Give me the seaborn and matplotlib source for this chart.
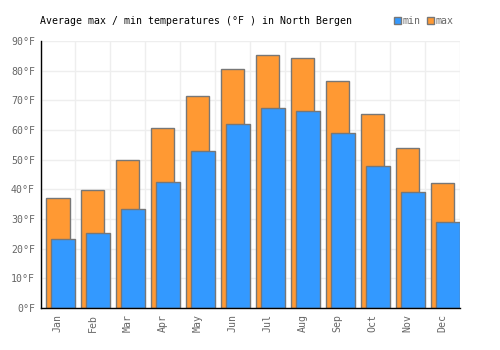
import matplotlib
matplotlib.use("Agg")
import matplotlib.pyplot as plt
import seaborn as sns
import pandas as pd
from matplotlib.patches import Patch

months = ["Jan", "Feb", "Mar", "Apr", "May", "Jun", "Jul", "Aug", "Sep", "Oct", "Nov", "Dec"]
max_temps = [37.0, 39.7, 49.8, 60.8, 71.6, 80.4, 85.4, 84.2, 76.4, 65.3, 53.8, 42.0]
min_temps = [23.1, 25.3, 33.2, 42.3, 52.8, 61.9, 67.3, 66.4, 58.9, 47.8, 39.0, 28.9]
yticks = [0, 10, 20, 30, 40, 50, 60, 70, 80, 90]

df = pd.DataFrame({"month": months, "max": max_temps, "min": min_temps})

sns.set_theme(style="white")
plt.rcParams["font.family"] = ["DejaVu Sans Mono", "DejaVu Sans"]

fig = plt.figure(figsize=(5, 3.5), dpi=100)
ax = fig.add_axes([0.081, 0.12, 0.839, 0.763])

orange = "#ff9933"
blue = "#3399ff"
edge = "#777777"
fs = 7.15

sns.barplot(data=df, x="month", y="max", color=orange, width=0.66,
            edgecolor=edge, linewidth=1.0, saturation=1, ax=ax)
n_max = len(ax.patches)
sns.barplot(data=df, x="month", y="min", color=blue, width=0.70,
            edgecolor=edge, linewidth=1.0, saturation=1, ax=ax)
for p in ax.patches[n_max:]:
    p.set_x(p.get_x() + 0.15)

ax.set_xlim(-0.5, len(months) - 0.5)
ax.set_ylim(0, 90)
ax.set_yticks(yticks)
ax.set_yticklabels([f"{t}°F" for t in yticks], color="#666666", fontsize=fs)
ax.set_xticks(range(len(months)))
ax.set_xticklabels(months, rotation=90, color="#666666", fontsize=fs)
ax.set_xlabel("")
ax.set_ylabel("")

for v in [i + 0.5 for i in range(-1, len(months))]:
    ax.axvline(v, color="#eeeeee", lw=1, zorder=0)
for t in yticks:
    ax.axhline(t, color="#eeeeee", lw=1, zorder=0)
ax.set_axisbelow(True)

for s in ["top", "right"]:
    ax.spines[s].set_visible(False)
for s in ["left", "bottom"]:
    ax.spines[s].set_color("black")
    ax.spines[s].set_linewidth(1)
ax.tick_params(axis="both", length=0, pad=4)

fig.text(0.08, 0.94, "Average max / min temperatures (°F ) in North Bergen",
         fontsize=fs, color="black", va="center", ha="left")

handles = [Patch(facecolor=blue, edgecolor=edge, label="min"),
           Patch(facecolor=orange, edgecolor=edge, label="max")]
leg = fig.legend(handles=handles, loc="center left", bbox_to_anchor=(0.778, 0.94),
                 ncol=2, frameon=False, handlelength=0.7, handleheight=0.7,
                 handletextpad=0.2, columnspacing=0.6, fontsize=fs, borderpad=0)
for t in leg.get_texts():
    t.set_color("#666666")

fig.savefig("out.png", dpi=100)
